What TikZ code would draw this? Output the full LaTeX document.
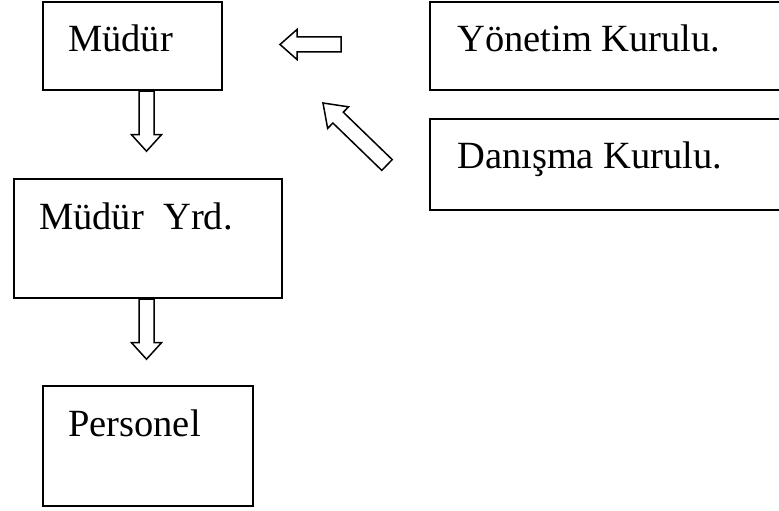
\documentclass[tikz,border=0pt]{standalone}
\usepackage{fontspec}
\setmainfont{Liberation Serif}
\usetikzlibrary{positioning,calc}

% hollow block arrow from #1 (tail) to #2 (tip), head length #3
\newcommand{\blockarrow}[3]{%
  \path ($(#2)!#3!(#1)$) coordinate (hb);
  \draw[blk] ($(#1)!7.5pt!90:(#2)$) -- ($(hb)!7.5pt!90:(#2)$) -- ($(hb)!15pt!90:(#2)$)
    -- (#2) -- ($(hb)!15pt!-90:(#2)$) -- ($(hb)!7.5pt!-90:(#2)$) -- ($(#1)!7.5pt!-90:(#2)$) -- cycle;
}

\begin{document}
\begin{tikzpicture}[x=1pt,y=-1pt,
  box/.style={draw,rectangle,anchor=north west,inner sep=0pt,line width=2.2pt},
  txt/.style={anchor=base west,inner sep=0pt,font=\fontsize{38.5}{46}\selectfont},
  blk/.style={draw,line width=1.5pt,line join=miter,fill=white}]

\useasboundingbox (0,0) rectangle (779,511);

\node[box,minimum width=179pt,minimum height=88pt](mudur) at (42,1) {};
\node[box,minimum width=380pt,minimum height=88pt](yonetim) at (429,1) {};
\node[box,minimum width=380pt,minimum height=91pt](danisma) at (429,118) {};
\node[box,minimum width=268pt,minimum height=119pt](yrd) at (13,178) {};
\node[box,minimum width=210pt,minimum height=120pt](personel) at (42,385) {};

\node[txt](mudurT) at (68,52) {Müdür};
\node[txt](yonetimT) at (457,52) {Yönetim Kurulu.};
\node[txt](danismaT) at (457,168) {Danışma Kurulu.};
\node[txt](yrdT) at (39,229) {Müdür\ \ Yrd.};
\node[txt](personelT) at (68,436) {Personel};

\coordinate (d1a) at ($(mudur.south west)+(104.5,0)$);
\coordinate (d1b) at ($(d1a)+(0,60)$);
\coordinate (d2a) at ($(yrd.south west)+(133.5,0)$);
\coordinate (d2b) at ($(d2a)+(0,60)$);
\coordinate (la) at (341,44.5);
\coordinate (lb) at (280,44.5);
\coordinate (ga) at (387,165);
\coordinate (gb) at (323,103);

\blockarrow{d1a}{d1b}{16.5pt}
\blockarrow{d2a}{d2b}{16.5pt}
\blockarrow{la}{lb}{17pt}
\blockarrow{ga}{gb}{21pt}

\end{tikzpicture}
\end{document}
